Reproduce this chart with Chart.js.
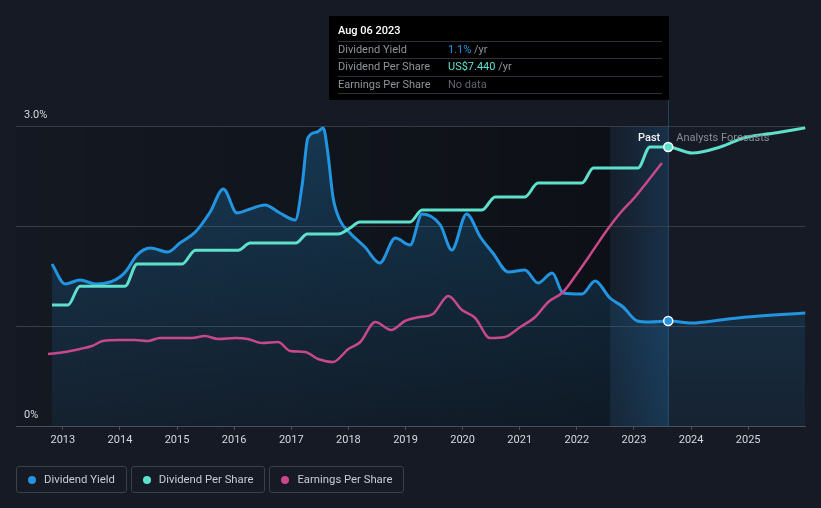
<!DOCTYPE html>
<html>
<head>
<meta charset="utf-8">
<script src="https://cdn.jsdelivr.net/npm/chart.js@4.4.0/dist/chart.umd.min.js"></script>
<style>
  html, body { margin: 0; padding: 0; background: #151a24; }
  #wrap { position: relative; width: 821px; height: 508px; overflow: hidden; }
  #c { position: absolute; left: 0; top: 0; }
  #legend { position: absolute; left: 16px; top: 466px; display: flex; gap: 4px; }
  .item { box-sizing: border-box; height: 27px; border: 1px solid #3b414c; border-radius: 3px;
          display: flex; align-items: center; padding: 0 11px 0 11px;
          font: 11.3px Roboto, "Noto Sans", sans-serif; color: #c9cdd3; }
  .dot { width: 8px; height: 8px; border-radius: 50%; margin-right: 8px; }
</style>
</head>
<body>
<div id="wrap">
  <canvas id="c" width="821" height="508"></canvas>
  <div id="legend"></div>
</div>
<script>
// ---------------- data ----------------
const seriesNames = ['Dividend Yield', 'Dividend Per Share', 'Earnings Per Share'];
const seriesColors = ['#2394df', '#5fe0cb', '#c7488b'];

// Dividend yield (%)
const yieldYears = [2012.81, 2013.04, 2013.30, 2013.58, 2013.83, 2014.00, 2014.11, 2014.30, 2014.53, 2014.84,
  2015.05, 2015.32, 2015.58, 2015.81, 2016.05, 2016.28, 2016.54, 2016.80, 2017.07, 2017.19, 2017.29, 2017.45,
  2017.56, 2017.64, 2017.73, 2017.85, 2018.03, 2018.29, 2018.55, 2018.82, 2019.08, 2019.29, 2019.61, 2019.81,
  2020.07, 2020.31, 2020.53, 2020.80, 2021.09, 2021.32, 2021.57, 2021.76, 2022.09, 2022.32, 2022.58, 2022.81,
  2023.06, 2023.28, 2023.60, 2024.02, 2024.51, 2024.98, 2025.44, 2026.00];
const yieldValues = [1.62, 1.42, 1.46, 1.42, 1.44, 1.49, 1.55, 1.71, 1.78, 1.74,
  1.83, 1.94, 2.14, 2.37, 2.13, 2.17, 2.21, 2.13, 2.06, 2.41, 2.88, 2.94,
  2.98, 2.73, 2.29, 2.06, 1.93, 1.79, 1.63, 1.88, 1.81, 2.12, 2.01, 1.76,
  2.12, 1.89, 1.73, 1.54, 1.56, 1.43, 1.53, 1.33, 1.32, 1.45, 1.28, 1.19,
  1.05, 1.04, 1.05, 1.03, 1.06, 1.09, 1.11, 1.13];

// Dividend per share (US$)
const dpsYears = [2012.81, 2013.09, 2013.30, 2014.09, 2014.30, 2015.09, 2015.32, 2016.07, 2016.28, 2017.08,
  2017.28, 2017.82, 2018.03, 2018.20, 2019.08, 2019.29, 2020.34, 2020.57, 2021.09, 2021.32, 2022.09, 2022.29,
  2023.07, 2023.28, 2023.60, 2024.02, 2024.51, 2024.92, 2025.50, 2026.00];
const dpsValues = [3.23, 3.23, 3.73, 3.73, 4.32, 4.32, 4.69, 4.69, 4.88, 4.88,
  5.12, 5.12, 5.28, 5.44, 5.44, 5.76, 5.76, 6.11, 6.11, 6.48, 6.48, 6.88,
  6.88, 7.44, 7.44, 7.28, 7.44, 7.68, 7.82, 7.95];

// Earnings per share (US$)
const epsYears = [2012.74, 2013.04, 2013.30, 2013.51, 2013.70, 2014.00, 2014.26, 2014.49, 2014.70, 2015.26,
  2015.49, 2015.72, 2016.02, 2016.24, 2016.49, 2016.77, 2016.98, 2017.24, 2017.47, 2017.73, 2018.00, 2018.21,
  2018.47, 2018.75, 2018.99, 2019.25, 2019.48, 2019.75, 2019.99, 2020.22, 2020.48, 2020.74, 2021.01, 2021.27,
  2021.50, 2021.76, 2022.01, 2022.23, 2022.53, 2022.76, 2023.02, 2023.23, 2023.49];
const epsValues = [7.2, 7.4, 7.7, 8.0, 8.5, 8.6, 8.6, 8.5, 8.8, 8.8,
  9.0, 8.7, 8.8, 8.7, 8.3, 8.4, 7.5, 7.4, 6.7, 6.4, 7.7, 8.4,
  10.4, 9.6, 10.5, 10.9, 11.2, 13.0, 11.6, 10.8, 8.8, 8.9, 9.9, 10.9,
  12.4, 13.4, 15.3, 17.1, 19.6, 21.3, 22.9, 24.4, 26.3];

const yTickValues = [0, 3];          // labelled yield ticks
const bandStart = 2022.58;           // start of highlighted band
const nowYear = 2023.60;             // "today" marker
const tooltipTitle = 'Aug 06 2023';
const tooltipRows = [
  { label: 'Dividend Yield', value: '1.1%', suffix: ' /yr', color: '#2394df' },
  { label: 'Dividend Per Share', value: 'US$7.440', suffix: ' /yr', color: '#5fe0cb' },
  { label: 'Earnings Per Share', value: 'No data', suffix: '', color: '#60656d' }
];
const pastLabel = 'Past';
const forecastLabel = 'Analysts Forecasts';

// ---------------- chart ----------------
const FONT = 'Roboto, "Noto Sans", sans-serif';
const PAGE_BG = '#151a24';
const toPts = (xs, ys) => xs.map((x, i) => ({ x: x, y: ys[i] }));
const markerRadius = ctx => (ctx.raw && Math.abs(ctx.raw.x - nowYear) < 1e-6) ? 4.5 : 0;

const bgPlugin = {
  id: 'bg',
  beforeDraw(chart) {
    const { ctx, chartArea: a, scales: { x } } = chart;
    const xb = x.getPixelForValue(bandStart), xn = x.getPixelForValue(nowYear);
    ctx.save();
    ctx.fillStyle = PAGE_BG;
    ctx.fillRect(0, 0, chart.width, chart.height);
    let g = ctx.createLinearGradient(a.left, 0, xb, 0);
    g.addColorStop(0, 'rgba(0,0,0,0.06)');
    g.addColorStop(1, 'rgba(0,0,0,0.38)');
    ctx.fillStyle = g;
    ctx.fillRect(a.left, a.top, xb - a.left, a.bottom - a.top);
    g = ctx.createLinearGradient(xb, 0, xn, 0);
    g.addColorStop(0, 'rgba(35,120,190,0.04)');
    g.addColorStop(1, 'rgba(35,120,190,0.24)');
    ctx.fillStyle = g;
    ctx.fillRect(xb, a.top, xn - xb, a.bottom - a.top);
    ctx.restore();
  },
  beforeDatasetsDraw(chart) {
    const { ctx, chartArea: a, scales: { x } } = chart;
    const xn = Math.round(x.getPixelForValue(nowYear)) + 0.5;
    ctx.save();
    ctx.strokeStyle = 'rgba(45,105,150,0.5)';
    ctx.lineWidth = 1;
    ctx.beginPath();
    ctx.moveTo(xn, 100);
    ctx.lineTo(xn, a.bottom);
    ctx.stroke();
    ctx.restore();
  },
  afterDraw(chart) {
    const { ctx, chartArea: a, scales: { x, y } } = chart;
    const xn = x.getPixelForValue(nowYear);
    ctx.save();
    // y labels
    ctx.font = '11px ' + FONT;
    ctx.fillStyle = '#d5d9de';
    ctx.textBaseline = 'middle';
    ctx.textAlign = 'left';
    yTickValues.forEach(v => {
      const t = v === 0 ? '0%' : v.toFixed(1) + '%';
      ctx.fillText(t, 24, y.getPixelForValue(v) - 11);
    });
    // past / forecast
    ctx.font = '500 11px ' + FONT;
    ctx.fillStyle = '#f2f4f6';
    ctx.textAlign = 'right';
    ctx.fillText(pastLabel, xn - 8, 138);
    ctx.font = '11px ' + FONT;
    ctx.fillStyle = '#878c95';
    ctx.textAlign = 'left';
    ctx.fillText(forecastLabel, xn + 8, 138);
    // tooltip
    const w = 340, left = Math.round(xn) - w + 1, top = 16, bottom = 100;
    ctx.fillStyle = '#000000';
    ctx.fillRect(left, top, w, bottom - top);
    ctx.fillStyle = '#ffffff';
    ctx.font = '500 11px ' + FONT;
    ctx.fillText(tooltipTitle, left + 9, 31);
    const lines = [41.5, 58.5, 76.5, 93.5];
    ctx.strokeStyle = '#2c3037';
    ctx.lineWidth = 1;
    lines.forEach(ly => {
      ctx.beginPath();
      ctx.moveTo(left + 9, ly);
      ctx.lineTo(left + w - 7, ly);
      ctx.stroke();
    });
    ctx.font = '11px ' + FONT;
    tooltipRows.forEach((r, i) => {
      const cy = (lines[i] + lines[i + 1]) / 2;
      ctx.fillStyle = '#8f949b';
      ctx.fillText(r.label, left + 9, cy);
      ctx.fillStyle = r.color;
      ctx.fillText(r.value, left + 119, cy);
      const vw = ctx.measureText(r.value).width;
      ctx.fillStyle = '#8f949b';
      ctx.fillText(r.suffix, left + 119 + vw, cy);
    });
    ctx.restore();
  }
};

const chart = new Chart(document.getElementById('c'), {
  type: 'line',
  data: {
    datasets: [
      {
        label: seriesNames[0],
        data: toPts(yieldYears, yieldValues),
        yAxisID: 'y',
        borderColor: seriesColors[0],
        borderWidth: 3,
        fill: 'origin',
        backgroundColor: ctx => {
          const a = ctx.chart.chartArea;
          if (!a) return 'rgba(35,150,225,0.15)';
          const g = ctx.chart.ctx.createLinearGradient(0, a.top, 0, a.bottom);
          g.addColorStop(0, 'rgba(35,150,225,0.27)');
          g.addColorStop(1, 'rgba(35,150,225,0.07)');
          return g;
        },
        pointRadius: markerRadius,
        pointBackgroundColor: seriesColors[0],
        pointBorderColor: '#ffffff',
        pointBorderWidth: 1.5,
        cubicInterpolationMode: 'monotone',
        order: 3
      },
      {
        label: seriesNames[1],
        data: toPts(dpsYears, dpsValues),
        yAxisID: 'yDps',
        borderColor: seriesColors[1],
        borderWidth: 3,
        fill: false,
        pointRadius: markerRadius,
        pointBackgroundColor: seriesColors[1],
        pointBorderColor: '#ffffff',
        pointBorderWidth: 1.5,
        cubicInterpolationMode: 'monotone',
        order: 1
      },
      {
        label: seriesNames[2],
        data: toPts(epsYears, epsValues),
        yAxisID: 'yEps',
        borderColor: seriesColors[2],
        borderWidth: 2.5,
        fill: false,
        pointRadius: 0,
        cubicInterpolationMode: 'monotone',
        order: 2
      }
    ]
  },
  options: {
    responsive: false,
    animation: false,
    devicePixelRatio: 1,
    layout: { padding: { left: 16, right: 16, top: 126, bottom: 62 } },
    plugins: { legend: { display: false }, tooltip: { enabled: false } },
    clip: false,
    scales: {
      x: {
        type: 'linear',
        min: 2012.18,
        max: 2025.995,
        afterFit: s => { s.height = 20; },
        ticks: {
          stepSize: 1,
          includeBounds: false,
          autoSkip: false,
          maxRotation: 0,
          padding: 4,
          color: '#d5d9de',
          font: { family: FONT, size: 11 },
          callback: v => String(v)
        },
        grid: { drawOnChartArea: false, drawTicks: true, tickLength: 4, color: '#4a505c' },
        border: { display: true, color: '#4a505c', width: 1 }
      },
      y: {
        min: 0,
        max: 3,
        afterFit: s => { s.width = 0; },
        ticks: { display: false, stepSize: 1 },
        grid: { color: '#373c46', drawTicks: false, lineWidth: 1 },
        border: { display: false }
      },
      yDps: { display: false, min: 0, max: 8 },
      yEps: { display: false, min: 0, max: 30 }
    }
  },
  plugins: [bgPlugin]
});

// HTML legend
const legend = document.getElementById('legend');
seriesNames.forEach((n, i) => {
  const it = document.createElement('div');
  it.className = 'item';
  const d = document.createElement('span');
  d.className = 'dot';
  d.style.background = seriesColors[i];
  it.appendChild(d);
  it.appendChild(document.createTextNode(n));
  legend.appendChild(it);
});
</script>
</body>
</html>
